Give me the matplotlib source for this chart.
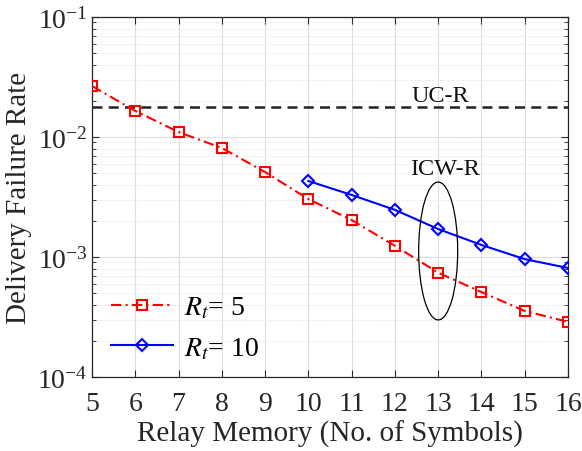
import matplotlib
matplotlib.use("Agg")
import matplotlib.pyplot as plt
from matplotlib.patches import Ellipse
from matplotlib.ticker import LogLocator, NullFormatter, FixedLocator

plt.rcParams['font.family'] = ['Liberation Serif', 'DejaVu Serif']
plt.rcParams['mathtext.fontset'] = 'stix'

# Relay memory (symbols)
memory_rt5 = [5, 6, 7, 8, 9, 10, 11, 12, 13, 14, 15, 16]
failure_rt5 = [0.0266, 0.0165, 0.0110, 0.0081, 0.0051, 0.00304, 0.00203,
               0.00124, 0.00074, 0.00051, 0.000355, 0.000288]

memory_rt10 = [10, 11, 12, 13, 14, 15, 16]
failure_rt10 = [0.0043, 0.00329, 0.00247, 0.00171, 0.00126, 0.00096, 0.00081]

ucr_level = 0.0178
x_ticks = list(range(5, 17))

fig = plt.figure(figsize=(5.82, 4.52), dpi=100)
ax = fig.add_axes([92 / 582, 1 - 378 / 452, 476 / 582, 360 / 452])

ax.set_yscale('log')
ax.set_xlim(5, 16)
ax.set_ylim(1e-4, 1e-1)

ax.axhline(ucr_level, color='#222222', ls=(0, (4, 2.5)), lw=1.8, zorder=3)

ax.plot(memory_rt5, failure_rt5, color='#ff0000', ls=(0, (5, 2, 1, 2)), lw=1.5,
        marker='s', ms=7, mfc='none', mec='#ff0000', mew=1.5,
        label=r'$R_t$= 5', zorder=4)
ax.plot(memory_rt10, failure_rt10, color='#0000ff', ls='-', lw=1.5,
        marker='D', ms=6.5, mfc='none', mec='#0000ff', mew=1.5,
        label=r'$R_t$= 10', zorder=4)

# Ellipse marking the ICW-R curves at memory 13
ell = Ellipse((8 / 11, 0.35), width=0.082, height=0.383,
              transform=ax.transAxes, fill=False, ec='black', lw=0.9, zorder=5)
ax.add_patch(ell)

ax.text(13.05, 0.0199, 'UC-R', ha='center', va='baseline', fontsize=17.5, color='#111111')
ax.text(13.15, 0.00492, 'ICW-R', ha='center', va='baseline', fontsize=17.5, color='#111111')

ax.xaxis.set_major_locator(FixedLocator(x_ticks))
ax.yaxis.set_major_locator(LogLocator(base=10, numticks=10))
ax.yaxis.set_minor_locator(LogLocator(base=10, subs=range(2, 10), numticks=20))
ax.yaxis.set_minor_formatter(NullFormatter())

ax.grid(True, which='major', color='#dddddd', lw=0.8, ls='-')
ax.grid(True, which='minor', axis='y', color='#dddddd', lw=0.7, ls=':')
ax.set_axisbelow(True)

ax.tick_params(which='both', direction='in', top=True, right=True,
               colors='#262626', labelsize=20)
ax.tick_params(which='major', length=5, width=0.8)
ax.tick_params(which='minor', length=3, width=0.6)
ax.tick_params(axis='x', pad=10)
ax.tick_params(axis='y', pad=3)
for s in ax.spines.values():
    s.set_color('#262626')
    s.set_linewidth(0.9)

ax.set_xlabel('Relay Memory (No. of Symbols)', fontsize=21, color='#262626', labelpad=3)
ax.set_ylabel('Delivery Failure Rate', fontsize=21, color='#262626', labelpad=4)

leg = ax.legend(loc='lower left', bbox_to_anchor=(0.0, -0.01), frameon=False,
                fontsize=20, handlelength=2.2, labelspacing=0.55,
                handletextpad=0.4, borderaxespad=0.3)

fig.savefig('out.png', dpi=100)
